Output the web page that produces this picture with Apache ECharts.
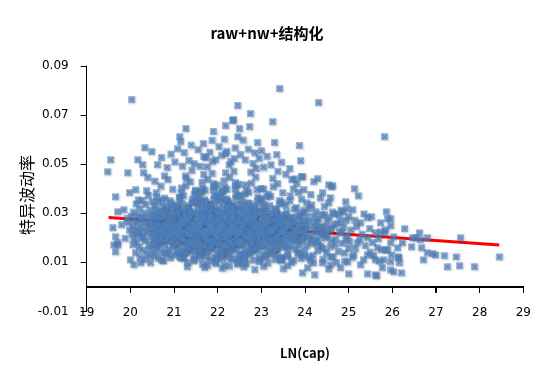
<!DOCTYPE html>
<html>
<head>
<meta charset="utf-8">
<script src="https://cdn.jsdelivr.net/npm/echarts@6/dist/echarts.min.js"></script>
<style>html,body{margin:0;padding:0;background:#fff}#c{width:548px;height:368px}</style>
</head>
<body>
<div id="c"></div>
<script>
// ---- data (LN(cap), idiosyncratic volatility) ----
const titleText = 'raw+nw+结构化';
const xName = 'LN(cap)';
const yName = '特异波动率';
const xTicks = [19, 20, 21, 22, 23, 24, 25, 26, 27, 28, 29];
const yTicks = [-0.01, 0.01, 0.03, 0.05, 0.07, 0.09];

const trendLnCap = [19.5, 28.45];
const trendVol = [0.0283, 0.0171];

const leftPts = [[19.48,.0469],[19.55,.0518],[19.6,.0241],[19.62,.0171],[19.66,.0204],[19.66,.0143],[19.66,.0367],[19.71,.0306],[19.71,.0171],[19.71,.018],[19.85,.0314],[19.94,.0465],[19.98,.0384],[20.0,.011],[20.08,.009],[20.12,.0396],[20.24,.0098],[20.46,.0098],[19.92,.0279],[19.88,.0198],[19.8,.0253]];

const highPts = [[20.03,.0763],[22.46,.0739],[21.27,.0645],[22.34,.0678],[22.18,.0657],[21.9,.0633],[21.13,.0612],[21.15,.0592],[20.33,.0567],[20.49,.0551],[20.17,.0518],[20.28,.0498],[20.3,.0465],[23.42,.0808],[24.31,.0751],[22.75,.0706],[22.36,.0682],[23.26,.0673],[22.5,.0645],[22.73,.0653],[25.82,.0612],[22.46,.0612],[22.91,.0588],[23.3,.0588],[23.87,.0576],[23.9,.0514],[23.0,.0555],[23.35,.0539],[23.65,.0482],[23.92,.0449],[24.29,.0441],[24.2,.0429],[24.6,.0408],[25.22,.0371],[23.94,.0449],[23.76,.044],[24.54,.0416],[24.63,.0412],[23.97,.0396],[24.13,.0376],[24.4,.0384],[24.58,.0363],[24.93,.0347],[24.86,.0306],
[20.62,.0498],[20.71,.0527],[20.84,.0486],[20.93,.0541],[21.02,.0509],[21.08,.0563],[21.19,.0492],[21.23,.0547],[21.34,.0515],[21.39,.0578],[21.46,.0502],[21.55,.0559],[21.6,.0491],[21.67,.0584],[21.73,.0526],[21.82,.0549],[21.87,.0597],[21.95,.0518],[22.03,.0571],[22.09,.0536],[22.15,.0602],[22.21,.0553],[22.3,.0511],[22.4,.0566],[22.52,.0539],[22.58,.0598],[22.63,.0517],[22.7,.0561],[22.81,.0503],[22.85,.0546],[22.95,.0524],[23.05,.0488],[23.13,.0532],[23.22,.0497],[23.38,.0471],[23.46,.0508],[23.56,.0459],[23.7,.0437],[23.81,.0421],[20.4,.0446],[20.56,.0431],[20.78,.0452]];

const lowPts = [[21.3,.0082],[21.7,.0079],[22.1,.0076],[22.6,.0081],[23.05,.0084],[23.6,.0087],[24.22,.0049],[23.94,.0057],[24.06,.0078],[24.4,.0098],[24.58,.009],[24.58,.0122],[23.5,.0074],[22.85,.0071]];

const band20 = [[19.95,.0262],[19.98,.0231],[20.02,.0287],[20.04,.0215],[20.05,.0248],[20.07,.0305],[20.08,.0196],[20.1,.0271],[20.11,.0229],[20.13,.0338],[20.14,.0182],[20.16,.0256],[20.17,.0292],[20.19,.0214],[20.2,.0163],[20.21,.0318],[20.23,.0241],[20.24,.0277],[20.26,.0205],[20.27,.0352],[20.28,.0149],[20.3,.0263],[20.31,.0226],[20.32,.0301],[20.34,.0187],[20.35,.0336],[20.36,.0245],[20.38,.0132],[20.39,.0284],[20.4,.0219],[20.41,.0372],[20.43,.0258],[20.44,.0171],[20.45,.0312],[20.46,.0236],[20.47,.0125],[20.48,.0289],[20.49,.0203],[20.5,.0347],[20.12,.0139],[20.22,.0121],[20.33,.0112],[20.06,.0172],[20.18,.0355],[20.37,.0392],[20.42,.0156],[20.29,.0198],[20.15,.0224],[20.25,.0283],[20.44,.0265],
[20.51,.0241],[20.52,.0178],[20.53,.0296],[20.54,.0215],[20.55,.0332],[20.56,.0127],[20.57,.0263],[20.58,.0199],[20.59,.0384],[20.6,.0231],[20.61,.0158],[20.62,.0287],[20.63,.0211],[20.64,.0346],[20.65,.0116],[20.66,.0252],[20.67,.0183],[20.68,.0309],[20.69,.0227],[20.7,.0411],[20.71,.0142],[20.72,.0273],[20.73,.0205],[20.74,.0325],[20.75,.0248],[20.76,.0106],[20.77,.0291],[20.78,.0169],[20.79,.0362],[20.8,.0236],[20.81,.0192],[20.82,.0278],[20.83,.0134],[20.84,.0315],[20.85,.0221],[20.86,.0437],[20.87,.0259],[20.88,.0153],[20.89,.0298],[20.9,.0209],[20.91,.0351],[20.92,.0118],[20.93,.0266],[20.94,.0187],[20.95,.0323],[20.96,.0243],[20.97,.0398],[20.98,.0162],[20.99,.0284],[21.0,.0218],
[20.52,.0275],[20.55,.0203],[20.58,.0317],[20.61,.0249],[20.64,.0172],[20.67,.0283],[20.7,.0195],[20.73,.0354],[20.76,.0228],[20.79,.0141],[20.82,.0306],[20.85,.0264],[20.88,.0186],[20.91,.0239],[20.94,.0292],[20.97,.0131],[20.54,.0147],[20.6,.0366],[20.66,.0223],[20.72,.0108],[20.78,.0251],[20.84,.0198],[20.9,.0275],[20.96,.0211],[20.53,.0224],[20.59,.0288],[20.65,.0301],[20.71,.0237],[20.77,.0216],[20.83,.0246],[20.89,.0229],[20.95,.0257],[20.57,.0176],[20.63,.0262],[20.69,.0193],[20.75,.0287],[20.81,.0329],[20.87,.0208],[20.93,.0341],[20.99,.0189]];

const band21 = [[21.01,.0234],[21.03,.0178],[21.04,.0312],[21.06,.0256],[21.07,.0143],[21.09,.0289],[21.1,.0207],[21.12,.0365],[21.13,.0221],[21.15,.0118],[21.16,.0274],[21.18,.0196],[21.19,.0338],[21.21,.0249],[21.22,.0163],[21.24,.0301],[21.25,.0228],[21.27,.0412],[21.28,.0185],[21.3,.0267],[21.31,.0099],[21.33,.0243],[21.34,.0319],[21.36,.0212],[21.37,.0156],[21.39,.0286],[21.4,.0239],[21.42,.0357],[21.43,.0201],[21.45,.0129],[21.46,.0261],[21.48,.0225],[21.49,.0394],[21.02,.0174],[21.05,.0297],[21.08,.0247],[21.11,.0136],[21.14,.0315],[21.17,.0218],[21.2,.0272],[21.23,.0189],[21.26,.0452],[21.29,.0233],[21.32,.0151],[21.35,.0281],[21.38,.0206],[21.41,.0344],[21.44,.0258],[21.47,.0112],[21.5,.0293],[21.01,.0215],[21.04,.0327],[21.07,.0171],[21.1,.0263],[21.13,.0237],[21.16,.0384],[21.19,.0197],[21.22,.0309],[21.25,.0224],[21.28,.0141],[21.31,.0276],[21.34,.0252],[21.37,.0428],[21.4,.0183],[21.43,.0219],[21.46,.0299],[21.49,.0166],[21.02,.0246],[21.06,.0335],[21.09,.0209],[21.12,.0124],[21.15,.0269],[21.18,.0231],[21.21,.0371],[21.24,.0193],[21.27,.0282],[21.3,.0241],[21.33,.0159],[21.36,.0307],[21.39,.0213],[21.42,.0254],[21.45,.0106],[21.48,.0346],[21.03,.0227],[21.08,.0179],[21.11,.0291],[21.14,.0244],[21.17,.0403],[21.2,.0202],[21.23,.0264],[21.26,.0138],[21.29,.0322],[21.32,.0216],[21.35,.0271],[21.38,.0187],[21.41,.0475],[21.44,.0235],[21.47,.0148],[21.05,.0296],[21.09,.0222],[21.13,.0361],[21.17,.0259],[21.21,.0115],[21.25,.0284],[21.29,.0211],[21.33,.0331],[21.37,.0176],[21.41,.0253],[21.45,.0239],[21.49,.0389],[21.04,.0194],[21.08,.0305],[21.12,.0229],[21.16,.0146],[21.2,.0278],[21.24,.0257],[21.28,.0441],[21.32,.0181],[21.36,.0223],[21.4,.0302],[21.44,.0168],[21.48,.0248],[21.06,.0329],[21.14,.0204],[21.22,.0127],[21.3,.0268],[21.38,.0232],[21.46,.0378],[21.18,.0191],[21.34,.0285],
[21.51,.0241],[21.53,.0187],[21.54,.0326],[21.56,.0263],[21.57,.0134],[21.59,.0298],[21.6,.0215],[21.62,.0386],[21.63,.0229],[21.65,.0092],[21.66,.0277],[21.68,.0203],[21.69,.0349],[21.71,.0254],[21.72,.0168],[21.74,.0312],[21.75,.0236],[21.77,.0437],[21.78,.0192],[21.8,.0271],[21.81,.0108],[21.83,.0248],[21.84,.0334],[21.86,.0219],[21.87,.0161],[21.89,.0291],[21.9,.0244],[21.92,.0372],[21.93,.0208],[21.95,.0121],[21.96,.0266],[21.98,.0231],[21.99,.0415],
[21.52,.0179],[21.55,.0305],[21.58,.0252],[21.61,.0143],[21.64,.0321],[21.67,.0224],[21.7,.0279],[21.73,.0196],[21.76,.0489],[21.79,.0239],[21.82,.0157],[21.85,.0287],[21.88,.0211],[21.91,.0358],[21.94,.0262],[21.97,.0116],[22.0,.0299],
[21.51,.0221],[21.54,.0341],[21.57,.0175],[21.6,.0268],[21.63,.0242],[21.66,.0401],[21.69,.0201],[21.72,.0316],[21.75,.0227],[21.78,.0147],[21.81,.0283],[21.84,.0258],[21.87,.0463],[21.9,.0188],[21.93,.0226],[21.96,.0308],[21.99,.0171],
[21.53,.0251],[21.56,.0352],[21.59,.0213],[21.62,.0129],[21.65,.0274],[21.68,.0235],[21.71,.0394],[21.74,.0198],[21.77,.0289],[21.8,.0246],[21.83,.0164],[21.86,.0314],[21.89,.0217],[21.92,.0261],[21.95,.0101],[21.98,.0367],
[21.52,.0232],[21.55,.0183],[21.58,.0296],[21.61,.0249],[21.64,.0426],[21.67,.0206],[21.7,.0269],[21.73,.0139],[21.76,.0331],[21.79,.0222],[21.82,.0276],[21.85,.0192],[21.88,.0512],[21.91,.0238],[21.94,.0153],[21.97,.0302],
[21.5,.0228],[21.54,.0379],[21.58,.0264],[21.62,.0119],[21.66,.0291],[21.7,.0216],[21.74,.0345],[21.78,.0181],[21.82,.0259],[21.86,.0244],[21.9,.0408],[21.94,.0199],[21.98,.0311],
[21.52,.0234],[21.56,.0151],[21.6,.0284],[21.64,.0262],[21.68,.0458],[21.72,.0186],[21.76,.0229],[21.8,.0307],[21.84,.0173],[21.88,.0255],[21.92,.0339],[21.96,.0209],[22.0,.0131],
[21.53,.0272],[21.57,.0237],[21.61,.0391],[21.65,.0196],[21.69,.0293],[21.73,.0213],[21.77,.0088],[21.81,.0247],[21.85,.0319],[21.89,.0228],[21.93,.0177],[21.97,.0265],
[21.51,.0203],[21.55,.0364],[21.59,.0257],[21.63,.0145],[21.67,.0282],[21.71,.0225],[21.75,.0335],[21.79,.0189],[21.83,.0271],[21.87,.0243],[21.91,.0421],[21.95,.0207],[21.99,.0298],
[21.54,.0236],[21.58,.0158],[21.62,.0286],[21.66,.0219],[21.7,.0355],[21.74,.0266],[21.78,.0124],[21.82,.0303],[21.86,.0231],[21.9,.0395],[21.94,.0185],[21.98,.0278],
[21.56,.0253],[21.64,.0169],[21.72,.0323],[21.8,.0218],[21.88,.0274],[21.96,.0096],[21.6,.0248],[21.68,.0531],[21.76,.0212],[21.84,.0289]];

const band22 = [[22.01,.0237],[22.03,.0192],[22.04,.0318],[22.06,.0259],[22.07,.0128],[22.09,.0294],[22.1,.0211],[22.12,.0392],[22.13,.0226],[22.15,.0087],[22.16,.0281],[22.18,.0206],[22.19,.0355],[22.21,.0248],[22.22,.0165],[22.24,.0309],[22.25,.0233],[22.27,.0446],[22.28,.0189],[22.3,.0268],[22.31,.0112],[22.33,.0245],[22.34,.0329],[22.36,.0222],[22.37,.0158],[22.39,.0295],[22.4,.0241],[22.42,.0376],[22.43,.0204],[22.45,.0117],[22.46,.0262],[22.48,.0234],[22.49,.0418],
[22.02,.0176],[22.05,.0301],[22.08,.0255],[22.11,.0141],[22.14,.0325],[22.17,.0221],[22.2,.0276],[22.23,.0194],[22.26,.0497],[22.29,.0236],[22.32,.0154],[22.35,.0284],[22.38,.0214],[22.41,.0362],[22.44,.0265],[22.47,.0109],[22.5,.0292],
[22.01,.0218],[22.04,.0347],[22.07,.0172],[22.1,.0264],[22.13,.0245],[22.16,.0406],[22.19,.0198],[22.22,.0313],[22.25,.0224],[22.28,.0144],[22.31,.0286],[22.34,.0256],[22.37,.0471],[22.4,.0185],[22.43,.0229],[22.46,.0305],[22.49,.0174],
[22.03,.0253],[22.06,.0358],[22.09,.0209],[22.12,.0126],[22.15,.0277],[22.18,.0238],[22.21,.0398],[22.24,.0195],[22.27,.0291],[22.3,.0249],[22.33,.0167],[22.36,.0311],[22.39,.0214],[22.42,.0263],[22.45,.0098],[22.48,.0371],
[22.02,.0229],[22.05,.0186],[22.08,.0299],[22.11,.0251],[22.14,.0432],[22.17,.0203],[22.2,.0272],[22.23,.0136],[22.26,.0328],[22.29,.0219],[22.32,.0279],[22.35,.0195],[22.38,.0523],[22.41,.0241],[22.44,.0149],[22.47,.0306],
[22.0,.0225],[22.04,.0383],[22.08,.0267],[22.12,.0114],[22.16,.0294],[22.2,.0219],[22.24,.0349],[22.28,.0178],[22.32,.0256],[22.36,.0247],[22.4,.0411],[22.44,.0202],[22.48,.0315],
[22.02,.0231],[22.06,.0148],[22.1,.0287],[22.14,.0259],[22.18,.0465],[22.22,.0183],[22.26,.0232],[22.3,.0304],[22.34,.0176],[22.38,.0252],[22.42,.0336],[22.46,.0212],[22.5,.0133],
[22.03,.0275],[22.07,.0234],[22.11,.0387],[22.15,.0199],[22.19,.0296],[22.23,.0216],[22.27,.0085],[22.31,.0244],[22.35,.0322],[22.39,.0225],[22.43,.0181],[22.47,.0268],
[22.01,.0206],[22.05,.0367],[22.09,.0254],[22.13,.0142],[22.17,.0285],[22.21,.0228],[22.25,.0338],[22.29,.0186],[22.33,.0274],[22.37,.0246],[22.41,.0425],[22.45,.0204],[22.49,.0301],
[22.04,.0233],[22.08,.0155],[22.12,.0283],[22.16,.0222],[22.2,.0358],[22.24,.0263],[22.28,.0121],[22.32,.0306],[22.36,.0234],[22.4,.0399],[22.44,.0182],[22.48,.0281],
[22.06,.0256],[22.14,.0166],[22.22,.0326],[22.3,.0215],[22.38,.0277],[22.46,.0093],[22.1,.0245],[22.18,.0543],[22.26,.0209],[22.34,.0292],
[22.51,.0232],[22.53,.0185],[22.54,.0314],[22.56,.0254],[22.57,.0131],[22.59,.0291],[22.6,.0208],[22.62,.0379],[22.63,.0223],[22.65,.0094],[22.66,.0273],[22.68,.0201],[22.69,.0342],[22.71,.0246],[22.72,.0162],[22.74,.0304],[22.75,.0229],[22.77,.0423],[22.78,.0184],[22.8,.0264],[22.81,.0109],[22.83,.0241],[22.84,.0322],[22.86,.0215],[22.87,.0155],[22.89,.0287],[22.9,.0237],[22.92,.0365],[22.93,.0199],[22.95,.0119],[22.96,.0259],[22.98,.0226],[22.99,.0401],
[22.52,.0173],[22.55,.0297],[22.58,.0249],[22.61,.0139],[22.64,.0318],[22.67,.0217],[22.7,.0271],[22.73,.0191],[22.76,.0468],[22.79,.0233],[22.82,.0151],[22.85,.0279],[22.88,.0208],[22.91,.0351],[22.94,.0258],[22.97,.0113],[23.0,.0288],
[22.51,.0214],[22.54,.0336],[22.57,.0169],[22.6,.0261],[22.63,.0238],[22.66,.0393],[22.69,.0195],[22.72,.0309],[22.75,.0221],[22.78,.0142],[22.81,.0278],[22.84,.0252],[22.87,.0447],[22.9,.0182],[22.93,.0223],[22.96,.0301],[22.99,.0168],
[22.53,.0247],[22.56,.0346],[22.59,.0206],[22.62,.0124],[22.65,.0271],[22.68,.0232],[22.71,.0386],[22.74,.0192],[22.77,.0284],[22.8,.0243],[22.83,.0161],[22.86,.0307],[22.89,.0211],[22.92,.0257],[22.95,.0103],[22.98,.0359],
[22.52,.0226],[22.55,.0181],[22.58,.0293],[22.61,.0245],[22.64,.0416],[22.67,.0199],[22.7,.0266],[22.73,.0134],[22.76,.0324],[22.79,.0216],[22.82,.0273],[22.85,.0188],[22.88,.0482],[22.91,.0235],[22.94,.0147],[22.97,.0298],
[22.5,.0222],[22.54,.0371],[22.58,.0262],[22.62,.0117],[22.66,.0287],[22.7,.0213],[22.74,.0339],[22.78,.0177],[22.82,.0253],[22.86,.0241],[22.9,.0396],[22.94,.0196],[22.98,.0306],
[22.56,.0228],[22.64,.0146],[22.72,.0281],[22.8,.0201],[22.88,.0331],[22.96,.0239],[22.6,.0098],[22.68,.0262],[22.76,.0175],[22.84,.0295],[22.92,.0219],[23.0,.0355]];

const band23 = [[23.01,.0228],[23.03,.0181],[23.04,.0305],[23.06,.0249],[23.07,.0128],[23.09,.0283],[23.1,.0204],[23.12,.0367],[23.13,.0219],[23.15,.0097],[23.16,.0268],[23.18,.0197],[23.19,.0331],[23.21,.0241],[23.22,.0159],[23.24,.0296],[23.25,.0224],[23.27,.0408],[23.28,.0179],[23.3,.0258],[23.31,.0111],[23.33,.0236],[23.34,.0313],[23.36,.0211],[23.37,.0152],[23.39,.0279],[23.4,.0232],[23.42,.0352],[23.43,.0196],[23.45,.0121],[23.46,.0253],[23.48,.0221],[23.49,.0384],
[23.02,.0169],[23.05,.0288],[23.08,.0244],[23.11,.0136],[23.14,.0309],[23.17,.0213],[23.2,.0265],[23.23,.0187],[23.26,.0442],[23.29,.0228],[23.32,.0147],[23.35,.0272],[23.38,.0204],[23.41,.0338],[23.44,.0252],[23.47,.0114],[23.5,.0281],
[23.01,.0209],[23.04,.0325],[23.07,.0165],[23.1,.0255],[23.13,.0233],[23.16,.0378],[23.19,.0191],[23.22,.0298],[23.25,.0217],[23.28,.0139],[23.31,.0271],[23.34,.0246],[23.37,.0421],[23.4,.0178],[23.43,.0218],[23.46,.0292],[23.49,.0163],
[23.03,.0241],[23.06,.0336],[23.09,.0201],[23.12,.0122],[23.15,.0264],[23.18,.0227],[23.21,.0369],[23.24,.0188],[23.27,.0276],[23.3,.0238],[23.33,.0157],[23.36,.0298],[23.39,.0207],[23.42,.0249],[23.45,.0106],[23.48,.0344],
[23.02,.0221],[23.08,.0176],[23.14,.0285],[23.2,.0239],[23.26,.0135],[23.32,.0319],[23.38,.0261],[23.44,.0185],[23.5,.0226],[23.05,.0399],[23.11,.0258],[23.17,.0148],[23.23,.0231],[23.29,.0302],[23.35,.0192],[23.41,.0118],[23.47,.0271],
[23.51,.0223],[23.53,.0176],[23.55,.0294],[23.57,.0242],[23.59,.0125],[23.61,.0274],[23.63,.0199],[23.65,.0351],[23.67,.0213],[23.69,.0101],[23.71,.0259],[23.73,.0191],[23.75,.0317],[23.77,.0234],[23.79,.0154],[23.81,.0286],[23.83,.0218],[23.85,.0385],[23.87,.0172],[23.89,.0249],[23.91,.0116],[23.93,.0228],[23.95,.0302],[23.97,.0205],[23.99,.0146],
[23.52,.0266],[23.54,.0227],[23.56,.0332],[23.58,.0188],[23.6,.0131],[23.62,.0245],[23.64,.0216],[23.66,.0371],[23.68,.0169],[23.7,.0281],[23.72,.0238],[23.74,.0109],[23.76,.0262],[23.78,.0204],[23.8,.0323],[23.82,.0183],[23.84,.0251],[23.86,.0142],[23.88,.0296],[23.9,.0221],[23.92,.0357],[23.94,.0194],[23.96,.0269],[23.98,.0127],[24.0,.0236],
[23.53,.0208],[23.58,.0305],[23.63,.0158],[23.68,.0252],[23.73,.0399],[23.78,.0225],[23.83,.0137],[23.88,.0278],[23.93,.0196],[23.98,.0313],[23.55,.0162],[23.65,.0283],[23.75,.0198],[23.85,.0231],[23.95,.0256]];

const band24 = [[24.01,.0219],[24.03,.0168],[24.05,.0287],[24.07,.0236],[24.09,.0121],[24.11,.0265],[24.13,.0192],[24.15,.0334],[24.17,.0208],[24.19,.0098],[24.21,.0251],[24.23,.0184],[24.25,.0306],[24.27,.0227],[24.29,.0147],[24.31,.0276],[24.33,.0211],[24.35,.0362],[24.37,.0165],[24.39,.0241],[24.41,.0113],[24.43,.0223],[24.45,.0293],[24.47,.0199],[24.49,.0138],
[24.02,.0258],[24.06,.0203],[24.1,.0318],[24.14,.0176],[24.18,.0129],[24.22,.0232],[24.26,.0262],[24.3,.0189],[24.34,.0246],[24.38,.0296],[24.42,.0156],[24.46,.0214],[24.5,.0268],[24.04,.0342],[24.12,.0108],[24.2,.0286],[24.28,.0174],[24.36,.0224],[24.44,.0327],[24.48,.0247],
[24.52,.0214],[24.55,.0281],[24.58,.0163],[24.61,.0239],[24.64,.0122],[24.67,.0297],[24.7,.0196],[24.73,.0258],[24.76,.0144],[24.79,.0226],[24.82,.0313],[24.85,.0178],[24.88,.0243],[24.91,.0105],[24.94,.0271],[24.97,.0207],[25.0,.0157],[24.54,.0342],[24.6,.0188],[24.66,.0253],[24.72,.0099],[24.78,.0291],[24.84,.0221],[24.9,.0138],[24.96,.0318],[24.57,.0232],[24.69,.0171],[24.81,.0266],[24.93,.0192],[24.63,.0305]];

const band25 = [[25.02,.0184],[25.0,.0286],[25.09,.0314],[25.11,.013],[25.2,.018],[25.27,.0261],[25.27,.009],[25.34,.011],[25.43,.0282],[25.43,.02],[25.43,.013],[25.43,.0053],[25.52,.0286],[25.61,.022],[25.61,.011],[25.61,.0049],[25.66,.0159],[25.73,.0261],[25.73,.0224],[25.77,.0078],[25.8,.011],[25.82,.022],[25.84,.0233],[25.84,.0151],[25.86,.0306],[25.89,.0278],[25.89,.0151],[25.96,.0278],[25.96,.018],[25.96,.0102],[25.96,.0069],[25.96,.0249],[25.98,.013],[25.75,.0151],[25.13,.04],[24.97,.0102],[24.81,.0078],[25.0,.0053],[24.54,.0073],[25.64,.0045],
[25.05,.0232],[25.15,.0157],[25.18,.0246],[25.25,.0193],[25.31,.0215],[25.38,.0168],[25.48,.0238],[25.55,.0181],[25.57,.0127],[25.68,.0196],[25.7,.0105],[25.14,.0272],[25.35,.0297],[25.49,.0142],[25.08,.0121]];

const band26 = [[26.03,.0204],[26.03,.0061],[26.12,.0159],[26.14,.0118],[26.14,.0122],[26.16,.0098],[26.21,.0057],[26.23,.018],[26.28,.0237],[26.44,.0163],[26.46,.02],[26.53,.02],[26.62,.022],[26.64,.0192],[26.67,.0159],[26.71,.011],[26.8,.02],[26.8,.0139],[26.92,.0135],[26.99,.013],[27.19,.0127],[27.26,.0082],[27.46,.0122],[27.54,.0086],[27.56,.02],[27.88,.0082],[28.45,.0122]];

// ---- chart ----
const scatterData = [].concat(band20, band21, band22, band23, band24, band25, band26, leftPts, highPts, lowPts);
const trendData = trendLnCap.map((x, i) => [x, trendVol[i]]);

const chart = echarts.init(document.getElementById('c'), null, {renderer: 'canvas'});
const xMark = 'path://M0,1.5 L1.5,0 L5,3.5 L8.5,0 L10,1.5 L6.5,5 L10,8.5 L8.5,10 L5,6.5 L1.5,10 L0,8.5 L3.5,5 Z';
const cjk = '"Noto Sans CJK SC", "DejaVu Sans", sans-serif';
const chartW = 548, chartH = 368;
const gridLeft = 86.7, gridRight = 24.7, gridTop = 66, gridBottom = 56.6;
const plotW = chartW - gridLeft - gridRight;
const plotH = chartH - gridTop - gridBottom;
const xMin = xTicks[0], xMax = xTicks[xTicks.length - 1];
const yMin = yTicks[0], yMax = yTicks[yTicks.length - 1];
// the x axis sits at the y = 0 level of the value scale
const zeroOffset = -plotH * (0 - yMin) / (yMax - yMin);
const yZeroPx = gridTop + plotH * (yMax - 0) / (yMax - yMin);
const xPx = v => gridLeft + plotW * (v - xMin) / (xMax - xMin);

// axis line and downward ticks at y = 0, on their own layer above the plot
const axisRow = Math.floor(yZeroPx);
const axisGraphics = [{
  type: 'rect', zlevel: 1, z: 100, silent: true,
  shape: {x: Math.floor(gridLeft), y: axisRow, width: Math.round(plotW) + 1, height: 1},
  style: {fill: '#000'}
}];
xTicks.slice(1).forEach(t => {
  axisGraphics.push({
    type: 'rect', zlevel: 1, z: 100, silent: true,
    shape: {x: Math.floor(xPx(t)), y: axisRow, width: 1, height: 7},
    style: {fill: '#000'}
  });
});
axisGraphics.push({
  type: 'text', x: 27, y: 195, rotation: Math.PI / 2, silent: true,
  style: {text: yName, fontFamily: cjk, fontSize: 16, fill: '#000', align: 'center', verticalAlign: 'middle'}
});

chart.setOption({
  animation: false,
  title: {
    text: titleText,
    left: 262, top: 21, textAlign: 'center',
    textStyle: {fontFamily: cjk, fontSize: 15, fontWeight: 'bold', color: '#000'}
  },
  grid: {left: gridLeft, right: gridRight, top: gridTop, bottom: gridBottom, outerBoundsMode: 'none'},
  xAxis: {
    type: 'value', position: 'bottom', offset: zeroOffset,
    min: xMin, max: xMax, interval: 1,
    name: xName, nameLocation: 'middle', nameGap: 60,
    nameTextStyle: {fontFamily: cjk, fontSize: 13, fontWeight: 'bold', color: '#000'},
    splitLine: {show: false},
    axisLine: {show: true, onZero: false, lineStyle: {color: '#000', width: 1}},
    axisTick: {show: true, length: 6, lineStyle: {color: '#000'}},
    axisLabel: {margin: 20, color: '#000', fontFamily: '"DejaVu Sans", sans-serif', fontSize: 12, formatter: v => String(v)}
  },
  yAxis: {
    type: 'value', min: yMin, max: yMax, interval: 0.02,
    splitLine: {show: false},
    axisLine: {show: true, onZero: false, lineStyle: {color: '#000', width: 1}},
    axisTick: {show: true, length: 6, lineStyle: {color: '#000'}},
    axisLabel: {margin: 18, color: '#000', fontFamily: '"DejaVu Sans", sans-serif', fontSize: 12, formatter: v => v.toFixed(2)}
  },
  graphic: axisGraphics,
  series: [
    {
      type: 'line', data: trendData, z: 2, symbol: 'none', silent: true,
      lineStyle: {color: '#ff0000', width: 3}
    },
    {
      type: 'scatter', data: scatterData, z: 3, symbol: 'rect', symbolSize: 7, silent: true,
      large: false, progressive: 0,
      itemStyle: {color: 'rgba(79,129,189,0.7)', shadowBlur: 2, shadowColor: 'rgba(0,0,0,0.3)', shadowOffsetX: 1, shadowOffsetY: 1}
    },
    {
      type: 'scatter', data: scatterData, z: 4, symbol: xMark, symbolSize: 5, silent: true,
      large: false, progressive: 0,
      itemStyle: {color: '#4f81bd'}
    }
  ]
});
</script>
</body>
</html>
